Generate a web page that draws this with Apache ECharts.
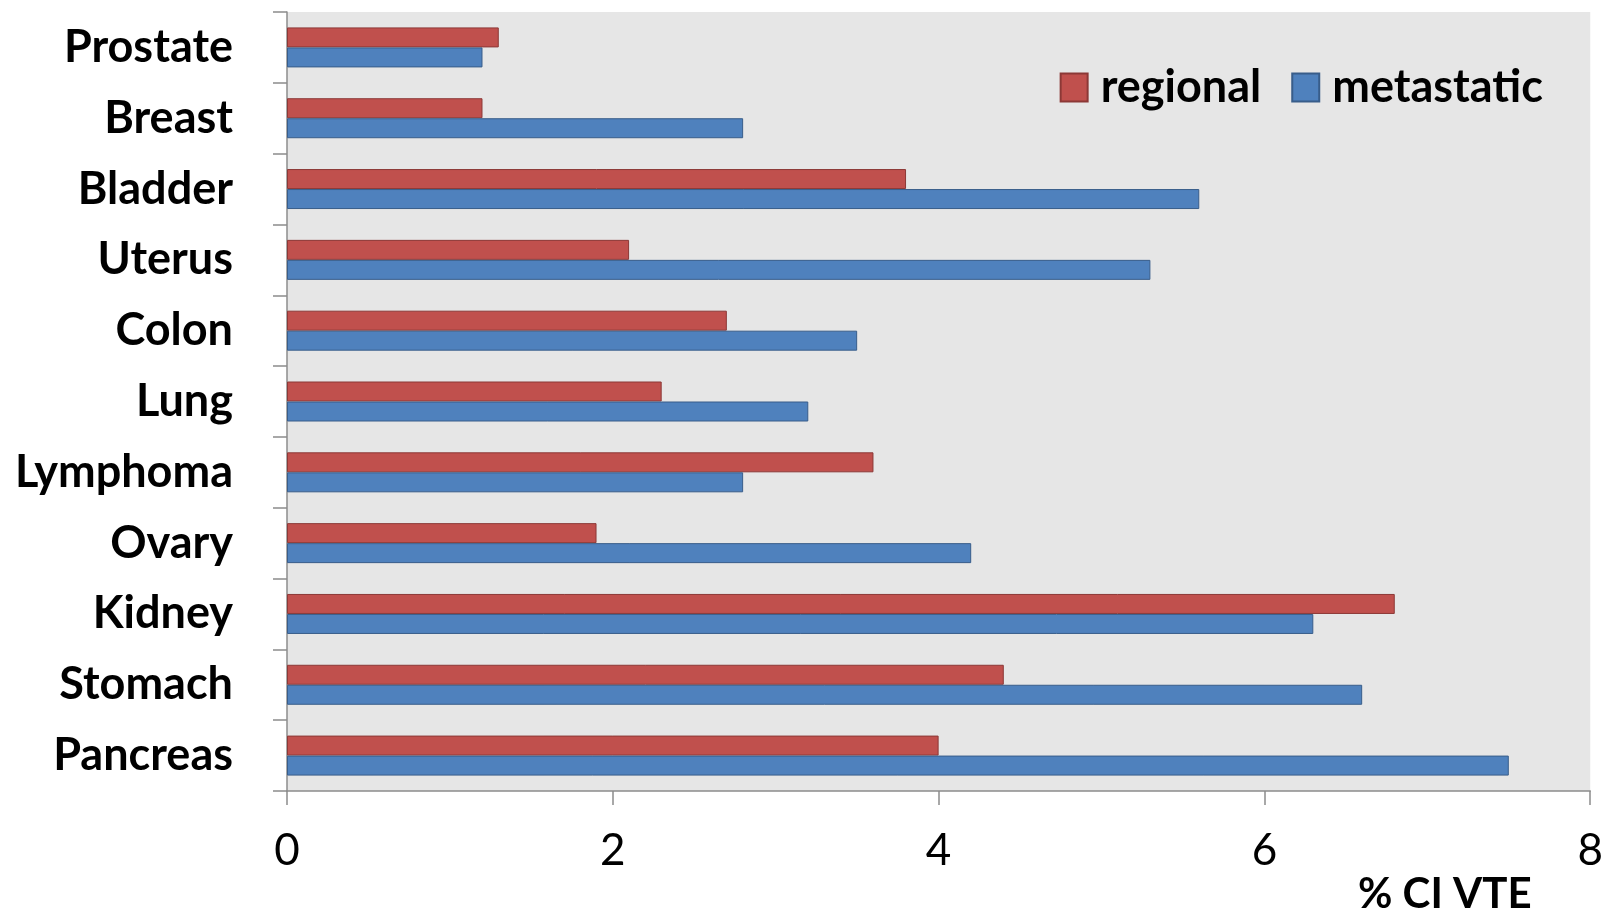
<!DOCTYPE html>
<html>
<head>
<meta charset="utf-8">
<script src="https://cdn.jsdelivr.net/npm/echarts@6/dist/echarts.min.js"></script>
<style>
  html, body { margin: 0; padding: 0; background: #fff; }
  #main { width: 1606px; height: 911px; }
</style>
</head>
<body>
<div id="main"></div>
<script>
// cancer sites, top to bottom
const sites = ['Prostate', 'Breast', 'Bladder', 'Uterus', 'Colon', 'Lung', 'Lymphoma', 'Ovary', 'Kidney', 'Stomach', 'Pancreas'];
const regional = [1.3, 1.2, 3.8, 2.1, 2.7, 2.3, 3.6, 1.9, 6.8, 4.4, 4.0];
const metastatic = [1.2, 2.8, 5.6, 5.3, 3.5, 3.2, 2.8, 4.2, 6.3, 6.6, 7.5];
const xTicks = [0, 2, 4, 6, 8];

const chart = echarts.init(document.getElementById('main'));

const font = 'Lato, "Open Sans", sans-serif';

const option = {
  animation: false,
  textStyle: { fontFamily: font },
  grid: {
    left: 287, right: 15, top: 12, bottom: 120,
    show: true, backgroundColor: '#e6e6e6', borderWidth: 0
  },
  legend: {
    top: 60, right: 58,
    itemWidth: 27, itemHeight: 28, itemGap: 30,
    icon: 'rect',
    textStyle: { fontSize: 45, fontWeight: 'bold', color: '#000', fontFamily: font, padding: [0, 0, 0, 8] },
    data: ['regional', 'metastatic']
  },
  xAxis: {
    type: 'value',
    min: xTicks[0], max: xTicks[xTicks.length - 1], interval: 2,
    splitLine: { show: false },
    axisLine: { show: true, lineStyle: { color: '#8c8c8c', width: 1.5 } },
    axisTick: { show: true, length: 14, lineStyle: { color: '#8c8c8c', width: 1.5 } },
    axisLabel: { fontSize: 44, color: '#000', margin: 38, fontFamily: font }
  },
  yAxis: {
    type: 'category',
    data: sites,
    inverse: true,
    axisLine: { show: true, lineStyle: { color: '#8c8c8c', width: 1.5 } },
    axisTick: { show: true, length: 14, lineStyle: { color: '#8c8c8c', width: 1.5 } },
    axisLabel: { fontSize: 45, fontWeight: 'bold', color: '#000', margin: 54, fontFamily: font }
  },
  graphic: [{
    type: 'text',
    left: 1358, top: 873,
    style: { text: '% CI VTE', fontSize: 42, fontWeight: 'bold', fill: '#000', fontFamily: font }
  }],
  series: [
    {
      name: 'regional', type: 'bar', data: regional,
      barWidth: 20, barGap: '0%',
      itemStyle: { color: '#c0504d', borderColor: '#8c3836', borderWidth: 1 }
    },
    {
      name: 'metastatic', type: 'bar', data: metastatic,
      barWidth: 20, barGap: '0%',
      itemStyle: { color: '#4f81bd', borderColor: '#385d8a', borderWidth: 1 }
    }
  ]
};

chart.setOption(option);
</script>
</body>
</html>
